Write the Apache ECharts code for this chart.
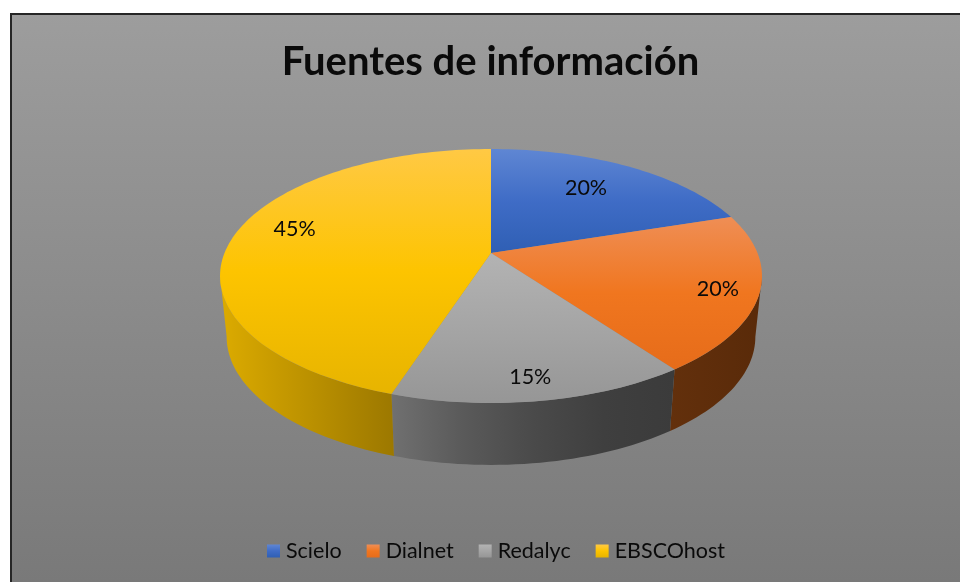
<!DOCTYPE html>
<html>
<head>
<meta charset="utf-8">
<title>Fuentes de información</title>
<script src="https://cdn.jsdelivr.net/npm/echarts@6/dist/echarts.min.js"></script>
<style>
    html, body {margin: 0; padding: 0; background: #fff;}
    #chart {width: 960px; height: 582px;}
</style>
</head>
<body>
<div id="chart"></div>
<script>
const categories = ['Scielo', 'Dialnet', 'Redalyc', 'EBSCOhost'];
const values = [20, 20, 15, 45];

// top face gradient, wall gradient
const topColors = [
    ['#5f86d3', '#3f6cc6', '#2f5fb4'],
    ['#ef8e55', '#f0761f', '#e66c1a'],
    ['#b3b3b3', '#a5a5a5', '#969696'],
    ['#ffc944', '#fdc400', '#e7b400']
];
const wallColors = [
    ['#2f4f8f', '#1f3a6f'],
    ['#63300c', '#592a09'],
    ['#707070', '#5a5a5a', '#4a4a4a', '#3f3f3f', '#3b3b3b'],
    ['#dcab00', '#9c7800']
];

// label placement: shift from the slice's middle angle (deg), fraction of radius
const labelShift = [-2, 1, 0.7, 5.8];
const labelRadius = [0.705, 0.855, 0.863, 0.79];

// perspective of the disc, top rim and bottom rim
const tilt = 0.181;
const topRim = {cx: 491, cy: 253, a: 266.5, b: 122.8};
const bottomRim = {cx: 491, cy: 313.5, a: 260, b: 124};
const wallFrom = 100.4;
const wallTo = 259.6;

const total = values.reduce((s, v) => s + v, 0);

function project(rim, deg, f) {
    const t = deg * Math.PI / 180;
    const u = Math.sin(t) * f;
    const v = -Math.cos(t) * f;
    const w = 1 - tilt * v;
    return [rim.cx + rim.a * u / w, rim.cy + rim.b * v / w];
}

function arc(rim, from, to) {
    const pts = [];
    const n = Math.max(2, Math.ceil(Math.abs(to - from) / 1.5));
    for (let i = 0; i <= n; i++) {
        pts.push(project(rim, from + (to - from) * i / n, 1));
    }
    return pts;
}

function grad(c, horizontal) {
    return {
        type: 'linear',
        x: 0,
        y: 0,
        x2: horizontal ? 1 : 0,
        y2: horizontal ? 0 : 1,
        colorStops: c.map((color, i) => ({offset: i / (c.length - 1), color: color}))
    };
}

function renderSlice(index) {
    return function (params, api) {
        const start = values.slice(0, index).reduce((s, v) => s + v, 0) / total * 360;
        const end = start + api.value(0) / total * 360;
        const children = [];

        const wa = Math.max(start, wallFrom);
        const wb = Math.min(end, wallTo);
        if (wb > wa) {
            children.push({
                type: 'polygon',
                shape: {points: arc(topRim, wa, wb).concat(arc(bottomRim, wb, wa))},
                style: {fill: grad(wallColors[index], true)}
            });
        }

        children.push({
            type: 'polygon',
            shape: {points: [[topRim.cx, topRim.cy]].concat(arc(topRim, start, end))},
            style: {fill: grad(topColors[index], false)}
        });

        const p = project(topRim, (start + end) / 2 + labelShift[index], labelRadius[index]);
        children.push({
            type: 'text',
            x: p[0],
            y: p[1],
            z2: 10,
            style: {
                text: Math.round(api.value(0) / total * 100) + '%',
                x: 0,
                y: 0,
                align: 'center',
                verticalAlign: 'middle',
                fill: '#0a0a0a',
                fontFamily: 'Lato',
                fontSize: 21.5
            }
        });
        return {type: 'group', children: children};
    };
}

const chart = echarts.init(document.getElementById('chart'), null, {renderer: 'canvas'});
chart.setOption({
    animation: false,
    backgroundColor: '#ffffff',
    title: {
        text: 'Fuentes de información',
        left: 485.5,
        top: 37,
        textAlign: 'center',
        textStyle: {
            color: '#0a0a0a',
            fontFamily: 'Lato',
            fontWeight: 'bold',
            fontSize: 40
        }
    },
    legend: {
        left: 267,
        top: 540,
        padding: 0,
        icon: 'rect',
        itemWidth: 13,
        itemHeight: 13,
        itemGap: 25,
        selectedMode: false,
        textStyle: {
            color: '#0a0a0a',
            fontFamily: 'Lato',
            fontSize: 21.5,
            padding: [0, 0, 0, 1]
        },
        data: categories.map((name, i) => ({name: name, itemStyle: {color: grad(topColors[i], false)}}))
    },
    graphic: [{
        type: 'rect',
        z: -1,
        silent: true,
        shape: {x: 11, y: 14, width: 970, height: 590},
        style: {
            stroke: '#262626',
            lineWidth: 2,
            fill: {
                type: 'linear',
                x: 0,
                y: 0,
                x2: 0,
                y2: 1,
                colorStops: [{offset: 0, color: '#9d9d9d'}, {offset: 0.96, color: '#797979'}, {offset: 1, color: '#797979'}]
            }
        }
    }],
    series: categories.map((name, i) => ({
        type: 'custom',
        name: name,
        coordinateSystem: 'none',
        silent: true,
        itemStyle: {color: topColors[i][0]},
        renderItem: renderSlice(i),
        data: [[values[i]]]
    }))
});
</script>
</body>
</html>
